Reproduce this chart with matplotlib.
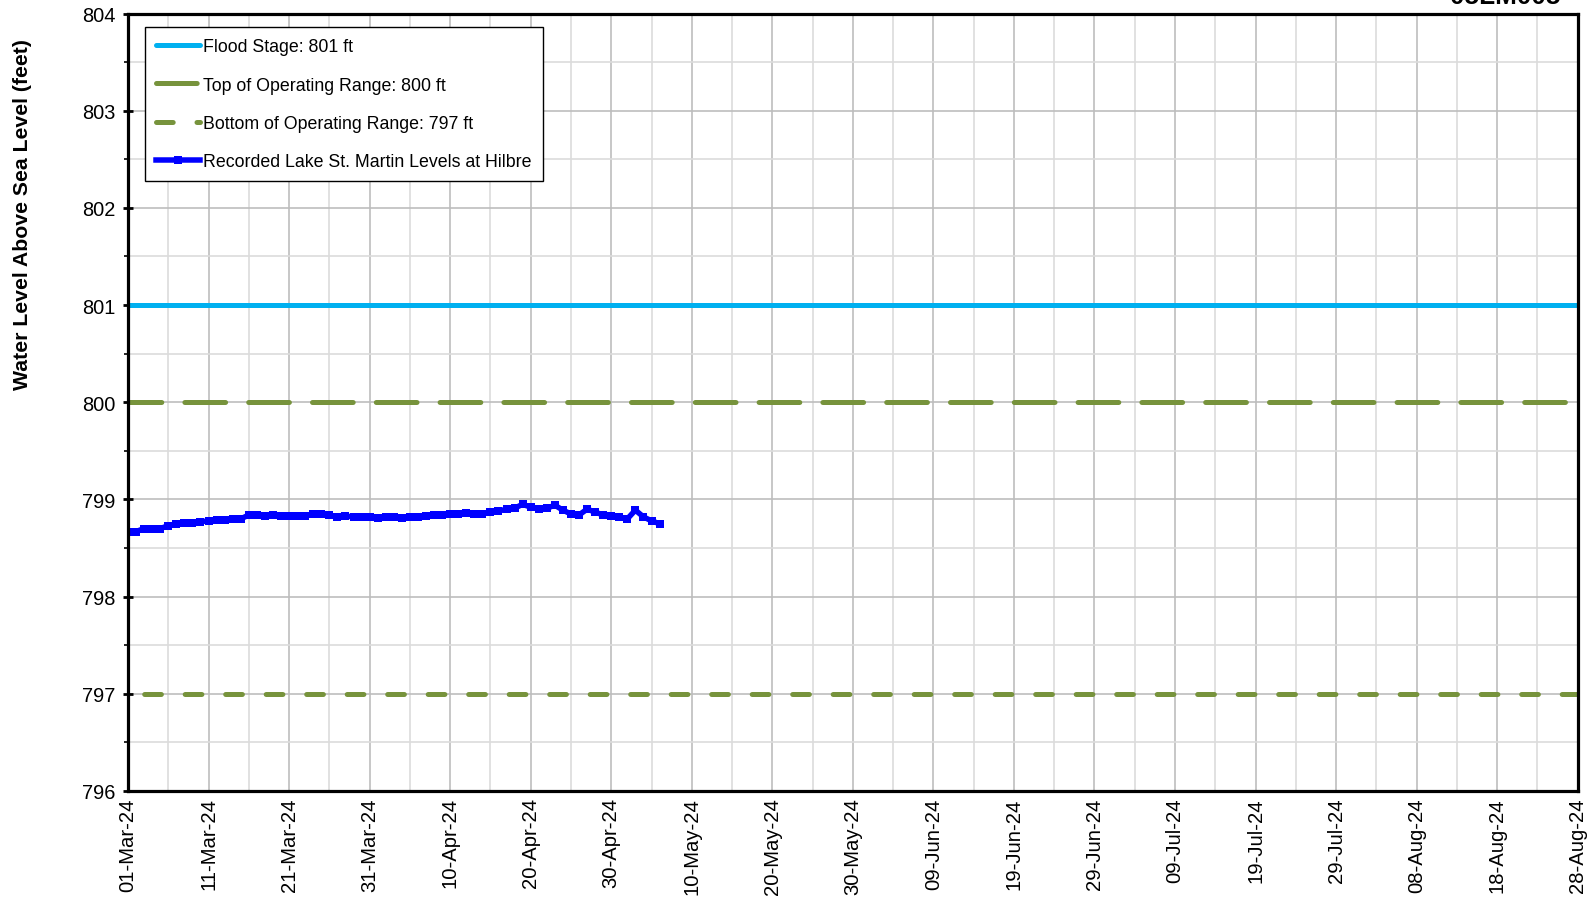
import matplotlib
matplotlib.use('Agg')
import matplotlib.pyplot as plt
import matplotlib.dates as mdates
from matplotlib.lines import Line2D
from matplotlib.ticker import MultipleLocator, FixedLocator
import pandas as pd

plt.rcParams['font.family'] = ['Liberation Sans', 'DejaVu Sans']
plt.rcParams['lines.scale_dashes'] = False

# ---------------- data ----------------
start_date = '2024-03-01'
levels = [
    798.66, 798.67, 798.70, 798.70, 798.70, 798.73, 798.75, 798.76, 798.76, 798.77,
    798.78, 798.79, 798.79, 798.80, 798.80, 798.84, 798.84, 798.83, 798.84, 798.83,
    798.83, 798.83, 798.83, 798.85, 798.85, 798.84, 798.82, 798.83, 798.82, 798.82,
    798.82, 798.81, 798.82, 798.82, 798.81, 798.82, 798.82, 798.83, 798.84, 798.84,
    798.85, 798.85, 798.86, 798.85, 798.85, 798.87, 798.88, 798.90, 798.91, 798.95,
    798.92, 798.90, 798.91, 798.94, 798.89, 798.85, 798.84, 798.90, 798.87, 798.84,
    798.83, 798.82, 798.80, 798.89, 798.82, 798.78, 798.75,
]
flood_stage = 801
top_of_range = 800
bottom_of_range = 797

legend_labels = [
    'Flood Stage: 801 ft',
    'Top of Operating Range: 800 ft',
    'Bottom of Operating Range: 797 ft',
    'Recorded Lake St. Martin Levels at Hilbre',
]
y_label = 'Water Level Above Sea Level (feet)'
station_title = '05LM005'

x_start = '2024-03-01'
x_end = '2024-08-28'
y_min, y_max = 796, 804

dates = pd.date_range(start_date, periods=len(levels), freq='D')
tick_dates = pd.date_range(x_start, x_end, freq='10D')
minor_dates = pd.date_range(x_start, x_end, freq='5D')
tick_labels = [d.strftime('%d-%b-%y') for d in tick_dates]

# ---------------- styles ----------------
px = 72 / 100.0  # points per pixel
c_flood = '#00B0F0'
c_range = '#77933C'
c_level = '#0000FF'
top_dash = (40.7 * px, 23.1 * px)
bot_dash = (16.7 * px, 23.8 * px)

# ---------------- figure ----------------
fig = plt.figure(figsize=(15.96, 9.12), dpi=100)
ax = fig.add_axes([128 / 1596, 1 - 792 / 912, 1449.7 / 1596, 777.5 / 912])

ax.axhline(flood_stage, color=c_flood, lw=5 * px, solid_capstyle='round', zorder=3)
ax.axhline(top_of_range, color=c_range, lw=5 * px, dash_capstyle='round',
           linestyle=(7.4 * px, top_dash), zorder=3)
ax.axhline(bottom_of_range, color=c_range, lw=5 * px, dash_capstyle='round',
           linestyle=(24.3 * px, bot_dash), zorder=3)
ax.plot(dates, levels, color=c_level, lw=5.5 * px, marker='s', markersize=8.5 * px,
        markeredgewidth=0, zorder=4)

# legend proxies (pattern starting at the handle's left end)
h1 = Line2D([], [], color=c_flood, lw=5 * px, solid_capstyle='round')
h2 = Line2D([], [], color=c_range, lw=5 * px, dash_capstyle='round', linestyle=(0, top_dash))
h3 = Line2D([], [], color=c_range, lw=5 * px, dash_capstyle='round', linestyle=(0, bot_dash))
h4 = Line2D([], [], color=c_level, lw=5.5 * px, marker='s', markersize=8.5 * px,
            markeredgewidth=0)

ax.set_xlim(pd.Timestamp(x_start), pd.Timestamp(x_end))
ax.set_ylim(y_min, y_max)

ax.xaxis.set_major_locator(FixedLocator(mdates.date2num(tick_dates)))
ax.xaxis.set_minor_locator(FixedLocator(mdates.date2num(minor_dates)))
ax.set_xticklabels(tick_labels, rotation=90, fontsize=14.6)
ax.yaxis.set_major_locator(MultipleLocator(1))
ax.yaxis.set_minor_locator(MultipleLocator(0.5))
ax.tick_params(axis='y', which='major', direction='inout', length=7, width=2,
               labelsize=14.4, pad=5.5)
ax.tick_params(axis='y', which='minor', direction='out', length=3, width=1.2)
ax.tick_params(axis='x', which='both', length=0, pad=4.5)

ax.set_axisbelow(True)
ax.grid(which='major', color='#BDBDBD', lw=1.2)
ax.grid(which='minor', color='#DCDCDC', lw=1.2)

for s in ax.spines.values():
    s.set_linewidth(2.3)
    s.set_color('black')
    s.set_zorder(5)

leg = ax.legend(handles=[h1, h2, h3, h4], labels=legend_labels, loc='upper left',
                bbox_to_anchor=(17 / 1449.7, 1 - 13.8 / 777.5), borderaxespad=0,
                fontsize=12.8, frameon=True, fancybox=False, framealpha=1,
                edgecolor='black', handlelength=2.5, handletextpad=0.16,
                borderpad=0.62, labelspacing=1.2)
leg.get_frame().set_linewidth(1.0)
leg.set_zorder(6)

fig.text(22.4 / 1596, 1 - 215 / 912, y_label, rotation=90, ha='center', va='center',
         fontsize=15.3, fontweight='bold')
fig.text(1505 / 1596, 1 - 4 / 912, station_title, ha='center', va='baseline',
         fontsize=18.8, fontweight='bold')

fig.savefig('out.png', dpi=100)
